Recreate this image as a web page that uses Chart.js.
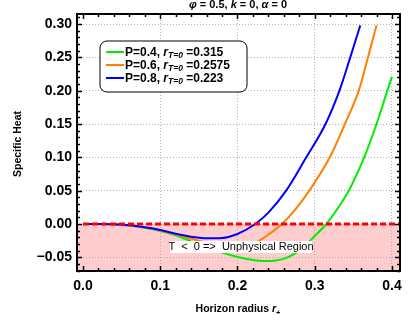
<!DOCTYPE html>
<html><head><meta charset="utf-8">
<script src="https://cdn.jsdelivr.net/npm/chart.js@4/dist/chart.umd.min.js"></script>
<style>html,body{margin:0;padding:0;background:#fff;}#wrap{width:411px;height:321px;position:relative;}</style>
</head><body><div id="wrap"><canvas id="c" width="411" height="321"></canvas></div>
<script>
// ---- data ----
const seriesLabels = ['P=0.4', 'P=0.6', 'P=0.8'];
const rootLabels = ['=0.315', '=0.2575', '=0.223'];
const seriesColors = ['#00ee00', '#ff8000', '#0000ff'];

const rGreen = [0, 0.02, 0.04, 0.06, 0.08, 0.10, 0.12, 0.14, 0.16, 0.18, 0.20, 0.22, 0.235, 0.25, 0.265, 0.28, 0.30, 0.315, 0.33, 0.344, 0.364, 0.380, 0.394, 0.40];
const cGreen = [0, 0, -0.0005, -0.0022, -0.0056, -0.0105, -0.017, -0.026, -0.035, -0.043, -0.0495, -0.0540, -0.0556, -0.0548, -0.050, -0.040, -0.018, 0, 0.024, 0.05, 0.10, 0.15, 0.20, 0.221];

const rOrange = [0, 0.02, 0.04, 0.06, 0.08, 0.10, 0.12, 0.14, 0.16, 0.18, 0.20, 0.22, 0.24, 0.2575, 0.275, 0.293, 0.3195, 0.339, 0.357, 0.369, 0.380];
const cOrange = [0, 0, -0.0005, -0.0021, -0.0053, -0.0098, -0.0155, -0.022, -0.028, -0.033, -0.035, -0.030, -0.016, 0, 0.022, 0.05, 0.10, 0.15, 0.20, 0.25, 0.298];

const rBlue = [0, 0.02, 0.04, 0.06, 0.08, 0.10, 0.12, 0.14, 0.16, 0.18, 0.20, 0.223, 0.24, 0.263, 0.289, 0.314, 0.332, 0.346, 0.359];
const cBlue = [0, 0, -0.0005, -0.002, -0.005, -0.009, -0.0145, -0.019, -0.0215, -0.021, -0.015, 0, 0.017, 0.05, 0.10, 0.15, 0.20, 0.25, 0.298];

const zeroLineX = [0, 0.41];
const zeroLineY = [0, 0];

const xTicks = [0, 0.1, 0.2, 0.3, 0.4];
const xTickLabels = ['0.0', '0.1', '0.2', '0.3', '0.4'];
const yTicks = [-0.05, 0, 0.05, 0.10, 0.15, 0.20, 0.25, 0.30];
const yTickLabels = ['\u22120.05', '0.00', '0.05', '0.10', '0.15', '0.20', '0.25', '0.30'];

const toPts = (xs, ys) => xs.map((x, i) => ({x: x, y: ys[i]}));

const FONT = '"Liberation Sans", Arial, sans-serif';

function drawRich(ctx, parts, x, y, align) {
  let w = 0;
  parts.forEach(p => { ctx.font = p.f; w += ctx.measureText(p.t).width; });
  let cx = align === 'center' ? x - w / 2 : x;
  parts.forEach(p => {
    ctx.font = p.f;
    ctx.fillText(p.t, cx, y + (p.dy || 0));
    cx += ctx.measureText(p.t).width;
  });
}

const framePlugin = {
  id: 'framePlugin',
  beforeDraw(chart) {
    const {ctx, chartArea: a, scales: {x, y}} = chart;
    ctx.save();
    const y0 = y.getPixelForValue(0);
    ctx.fillStyle = 'rgb(255,205,205)';
    ctx.fillRect(a.left, y0, a.right - a.left, a.bottom - y0);
    ctx.restore();
  },
  afterDatasetsDraw(chart) {
    const {ctx, chartArea: a, scales: {x, y}} = chart;
    ctx.save();
    // annotation label
    ctx.fillStyle = '#fff';
    ctx.fillRect(170, 241, 142, 12);
    ctx.fillStyle = '#000';
    ctx.font = '11px ' + FONT;
    ctx.textBaseline = 'middle';
    ctx.textAlign = 'center';
    ctx.fillText('T  <  0 =>  Unphysical Region', 241, 247);

    // frame ticks
    ctx.strokeStyle = '#000';
    ctx.lineWidth = 1.5;
    ctx.beginPath();
    for (let i = 0; i <= 20; i++) {
      const v = i * 0.02;
      const px = Math.round(x.getPixelForValue(v)) + 0.5;
      const len = (i % 5 === 0) ? 5 : 3;
      ctx.moveTo(px, a.bottom); ctx.lineTo(px, a.bottom - len);
      ctx.moveTo(px, a.top); ctx.lineTo(px, a.top + len);
    }
    for (let i = -7; i <= 31; i++) {
      const v = i * 0.01;
      const py = Math.round(y.getPixelForValue(v)) + 0.5;
      const len = (i % 5 === 0) ? 5 : 3;
      ctx.moveTo(a.left, py); ctx.lineTo(a.left + len, py);
      ctx.moveTo(a.right, py); ctx.lineTo(a.right - len, py);
    }
    ctx.stroke();
    // frame
    ctx.lineWidth = 2;
    ctx.strokeRect(a.left, a.top, a.right - a.left, a.bottom - a.top);

    // legend
    const bx = 100, by = 41, bw = 147, bh = 51, r = 7;
    ctx.beginPath();
    ctx.moveTo(bx + r, by);
    ctx.arcTo(bx + bw, by, bx + bw, by + bh, r);
    ctx.arcTo(bx + bw, by + bh, bx, by + bh, r);
    ctx.arcTo(bx, by + bh, bx, by, r);
    ctx.arcTo(bx, by, bx + bw, by, r);
    ctx.closePath();
    ctx.fillStyle = '#fff';
    ctx.fill();
    ctx.lineWidth = 1;
    ctx.strokeStyle = '#000';
    ctx.stroke();
    const rows = [52, 65, 78];
    ctx.textAlign = 'left';
    ctx.textBaseline = 'middle';
    for (let i = 0; i < 3; i++) {
      ctx.strokeStyle = seriesColors[i];
      ctx.lineWidth = 2;
      ctx.beginPath();
      ctx.moveTo(106, rows[i]); ctx.lineTo(124, rows[i]);
      ctx.stroke();
      ctx.fillStyle = '#000';
      drawRich(ctx, [
        {t: seriesLabels[i] + ', ', f: 'bold 12px ' + FONT},
        {t: 'r', f: 'italic bold 12px ' + FONT},
        {t: 'T=0', f: 'italic bold 8.5px ' + FONT, dy: 3},
        {t: ' ' + rootLabels[i], f: 'bold 12px ' + FONT}
      ], 125, rows[i] + 0.5, 'left');
    }
    ctx.restore();
  },
  afterDraw(chart) {
    const {ctx} = chart;
    ctx.save();
    ctx.fillStyle = '#000';
    ctx.textBaseline = 'alphabetic';
    ctx.textAlign = 'left';
    drawRich(ctx, [
      {t: '\u03c6', f: 'italic bold 11px ' + FONT},
      {t: ' = 0.5, ', f: 'bold 11px ' + FONT},
      {t: 'k', f: 'italic bold 11px ' + FONT},
      {t: ' = 0, ', f: 'bold 11px ' + FONT},
      {t: '\u03b1', f: 'italic bold 11px ' + FONT},
      {t: ' = 0', f: 'bold 11px ' + FONT}
    ], 238, 8, 'center');
    drawRich(ctx, [
      {t: 'Horizon radius ', f: 'bold 10.5px ' + FONT},
      {t: 'r', f: 'italic bold 10.5px ' + FONT},
      {t: '+', f: 'bold 7.5px ' + FONT, dy: 3}
    ], 238, 312, 'center');
    ctx.translate(18, 144);
    ctx.rotate(-Math.PI / 2);
    ctx.textBaseline = 'middle';
    drawRich(ctx, [{t: 'Specific Heat', f: 'bold 10.5px ' + FONT}], 0, 0, 'center');
    ctx.restore();
  }
};

const line = (pts, color, order) => ({
  data: pts, borderColor: color, borderWidth: 2, pointRadius: 0, showLine: true,
  fill: false, cubicInterpolationMode: 'monotone', order: order
});

new Chart(document.getElementById('c'), {
  type: 'scatter',
  data: {
    datasets: [
      Object.assign(line(toPts(zeroLineX, zeroLineY), '#ff0000', 0), {borderWidth: 3, borderDash: [6, 3], cubicInterpolationMode: 'default'}),
      line(toPts(rBlue, cBlue), seriesColors[2], 1),
      line(toPts(rOrange, cOrange), seriesColors[1], 2),
      line(toPts(rGreen, cGreen), seriesColors[0], 3)
    ]
  },
  options: {
    responsive: false,
    animation: false,
    devicePixelRatio: 1,
    layout: {padding: {left: 0, right: 11, top: 14, bottom: 0}},
    plugins: {legend: {display: false}, tooltip: {enabled: false}},
    scales: {
      x: {
        type: 'linear', min: -0.0078, max: 0.4104,
        afterFit: (s) => { s.height = 50; },
        afterBuildTicks: (s) => { s.ticks = xTicks.map(v => ({value: v})); },
        ticks: {
          callback: (v, i) => xTickLabels[i], padding: 7, color: '#000',
          font: {family: FONT, size: 14, weight: 'bold'}, maxRotation: 0, autoSkip: false
        },
        grid: {drawTicks: false, color: (c) => c.tick && c.tick.value === 0 ? 'rgba(0,0,0,0)' : 'rgba(170,170,170,0.9)', lineWidth: 1},
        border: {display: false, dash: [1, 2]}
      },
      y: {
        type: 'linear', min: -0.0705, max: 0.315,
        afterFit: (s) => { s.width = 77; },
        afterBuildTicks: (s) => { s.ticks = yTicks.map(v => ({value: v})); },
        ticks: {
          callback: (v, i) => yTickLabels[i], padding: 5, color: '#000',
          font: {family: FONT, size: 14, weight: 'bold'}, autoSkip: false
        },
        grid: {drawTicks: false, color: 'rgba(170,170,170,0.9)', lineWidth: 1},
        border: {display: false, dash: [1, 2]}
      }
    }
  },
  plugins: [framePlugin]
});
</script>
</body></html>
